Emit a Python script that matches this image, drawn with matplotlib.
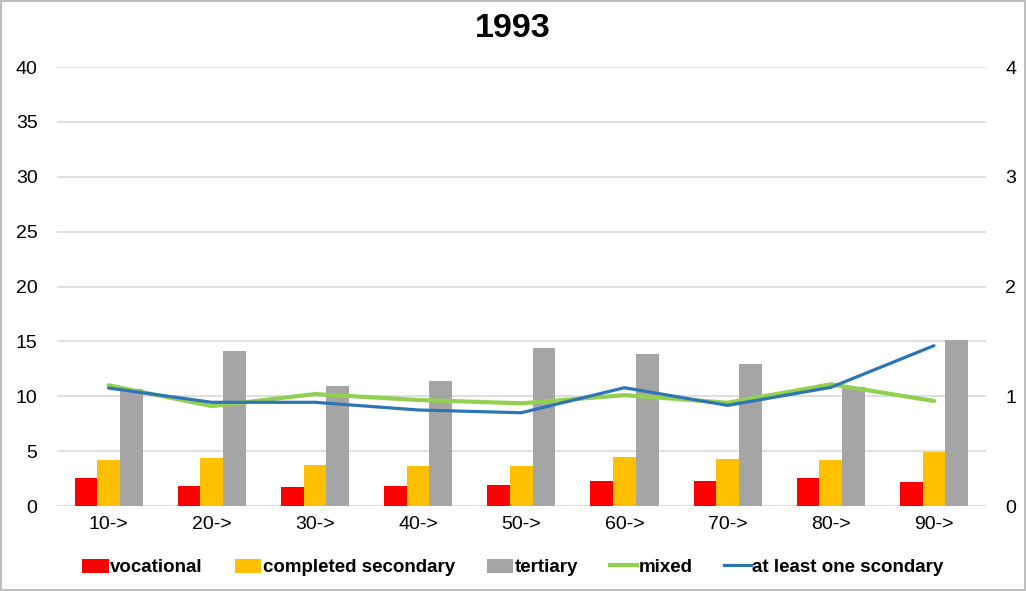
import matplotlib
matplotlib.use("Agg")
import matplotlib.pyplot as plt
from matplotlib.patches import Patch
from matplotlib.lines import Line2D
import numpy as np

plt.rcParams["font.family"] = ["Liberation Sans", "DejaVu Sans"]

categories = ["10->", "20->", "30->", "40->", "50->", "60->", "70->", "80->", "90->"]
vocational = [2.52, 1.82, 1.76, 1.82, 1.88, 2.31, 2.25, 2.52, 2.19]
completed_secondary = [4.19, 4.37, 3.70, 3.64, 3.67, 4.43, 4.28, 4.16, 4.92]
tertiary = [10.7, 14.1, 10.96, 11.39, 14.37, 13.82, 12.97, 10.8, 15.16]
mixed = [1.10, 0.91, 1.02, 0.966, 0.936, 1.01, 0.941, 1.109, 0.957]
at_least_one_secondary = [1.075, 0.945, 0.945, 0.875, 0.85, 1.078, 0.917, 1.081, 1.461]

left_ticks = [0, 5, 10, 15, 20, 25, 30, 35, 40]
right_ticks = [0, 1, 2, 3, 4]

fig = plt.figure(figsize=(10.26, 5.91), dpi=100)
fig.patch.set_edgecolor("#bfbfbf")
fig.patch.set_linewidth(1.5)
ax = fig.add_axes([0.0556, 0.1438, 0.905, 0.7428])
ax2 = ax.twinx()

x = np.arange(len(categories))
w = 0.22
ax.bar(x - w, vocational, w, color="#ff0000", zorder=3)
ax.bar(x, completed_secondary, w, color="#ffc000", zorder=3)
ax.bar(x + w, tertiary, w, color="#a5a5a5", zorder=3)

ax.set_ylim(0, 40)
ax.set_yticks(left_ticks)
ax.set_xlim(-0.5, len(categories) - 0.5)
ax.set_xticks(x)
ax.set_xticklabels(categories)
ax.grid(axis="y", color="#d9d9d9", linewidth=1.2, zorder=0)
ax.set_axisbelow(True)

ax2.plot(x, mixed, color="#92d050", linewidth=3.0, solid_capstyle="round", zorder=4)
ax2.plot(x, at_least_one_secondary, color="#2e75b6", linewidth=2.3, solid_capstyle="round", zorder=5)
ax2.set_ylim(0, 4)
ax2.set_yticks(right_ticks)

for a in (ax, ax2):
    for s in a.spines.values():
        s.set_visible(False)
    a.tick_params(length=0, labelsize=14, colors="#000000")
ax.tick_params(axis="y", pad=14)
ax2.tick_params(axis="y", pad=14)
ax.tick_params(axis="x", pad=7)

fig.text(0.5, 0.952, "1993", ha="center", va="center", fontsize=24.5, fontweight="bold")

handles = [
    Patch(facecolor="#ff0000"),
    Patch(facecolor="#ffc000"),
    Patch(facecolor="#a5a5a5"),
    Line2D([], [], color="#92d050", linewidth=3.0),
    Line2D([], [], color="#2e75b6", linewidth=2.3),
]
labels = ["vocational", "completed secondary", "tertiary", "mixed", "at least one scondary"]
fig.legend(handles, labels, loc="center", bbox_to_anchor=(0.5, 0.04), ncol=5, frameon=False,
           prop={"weight": "bold", "size": 13.5}, handlelength=1.4, handleheight=0.8,
           handletextpad=0.1, columnspacing=1.7)

fig.savefig("out.png", dpi=100)
